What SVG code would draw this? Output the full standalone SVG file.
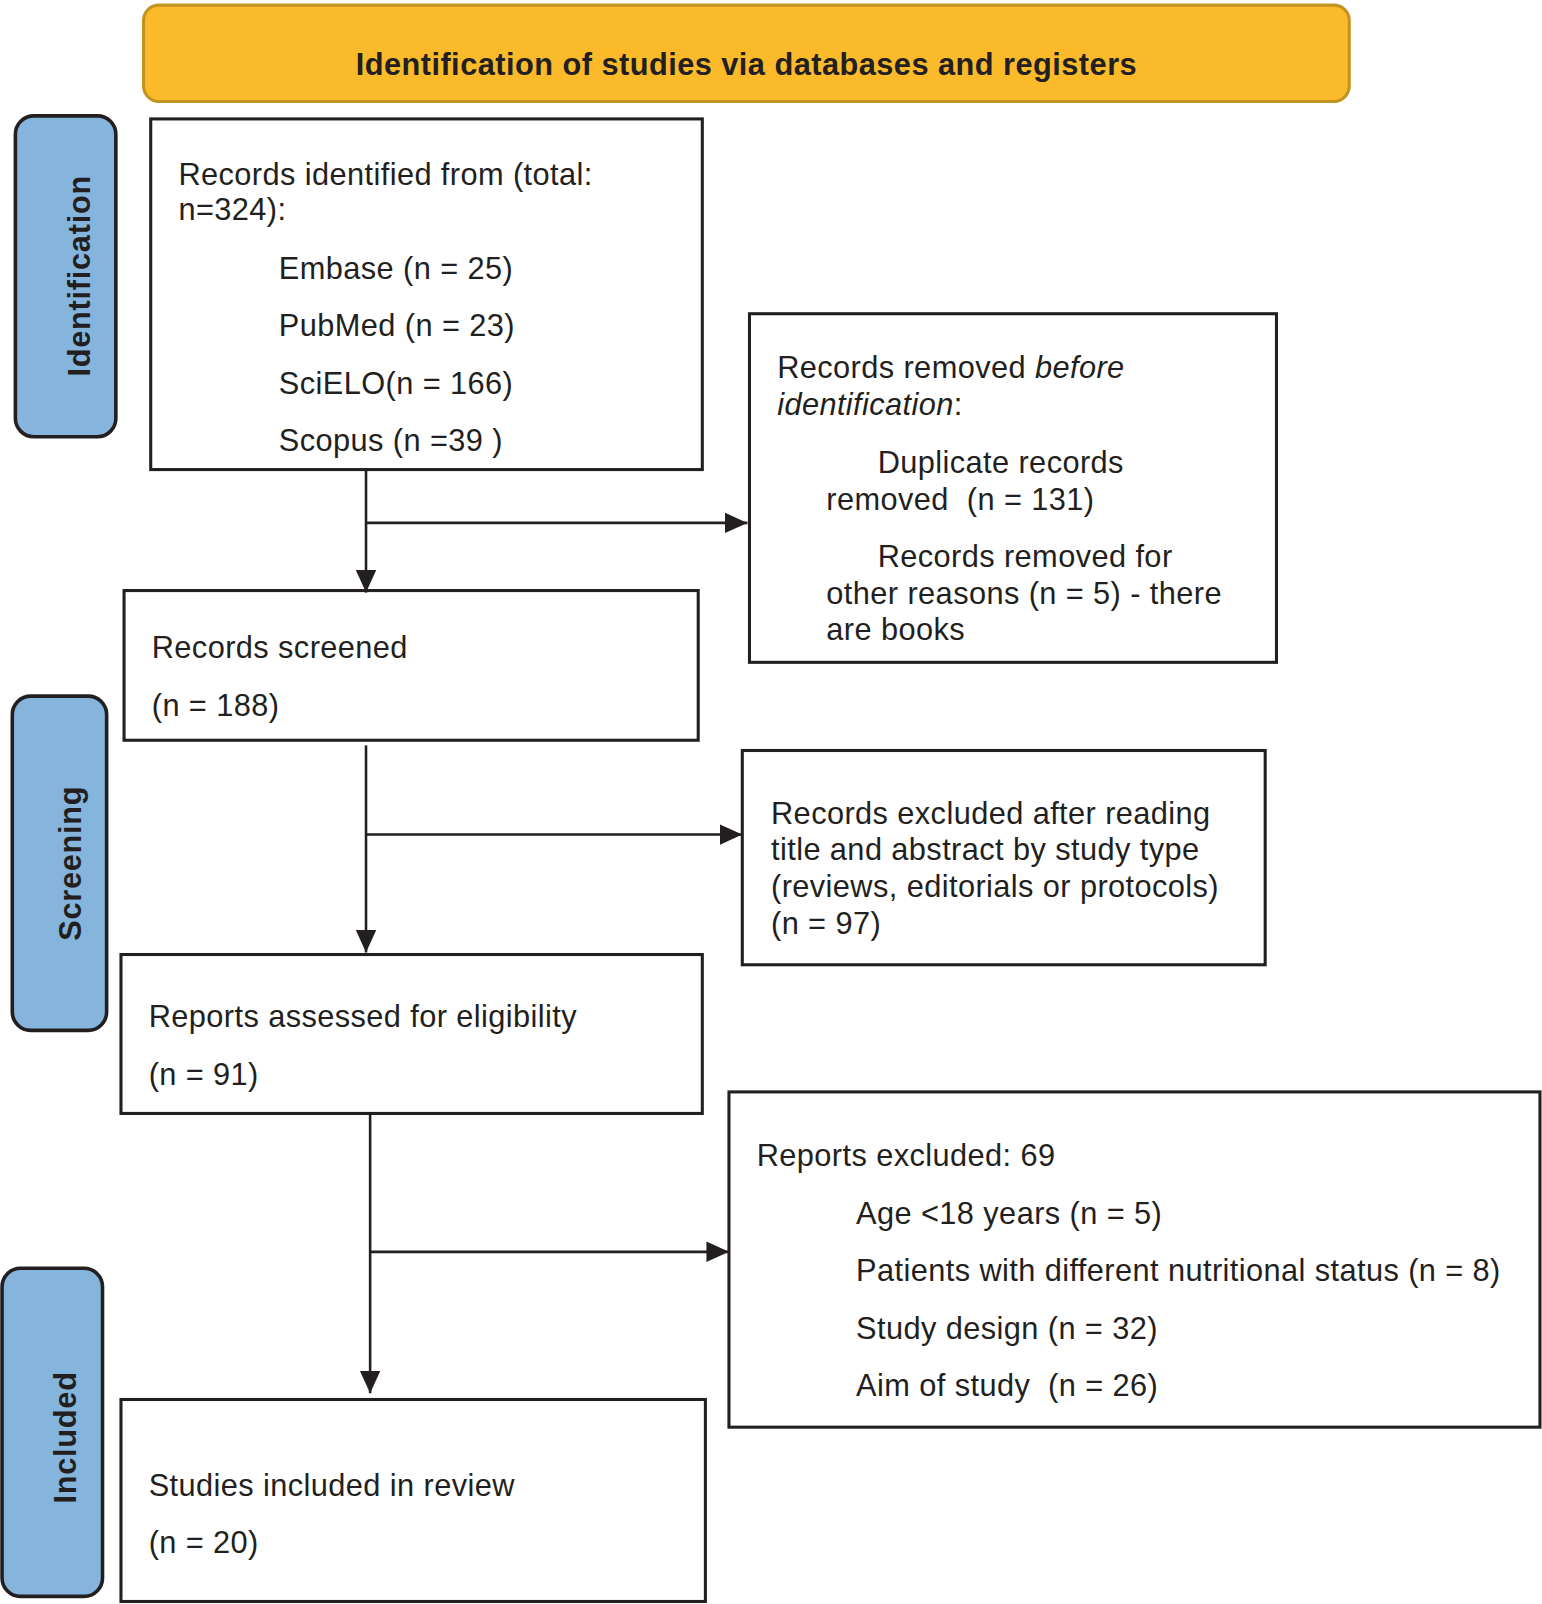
<svg xmlns="http://www.w3.org/2000/svg" width="1542" height="1604" viewBox="0 0 1542 1604">
<defs>
<style>
.box{fill:#fff;stroke:#231f20;stroke-width:3}
.side{fill:#85b5dd;stroke:#231f20;stroke-width:3.5}
.t{font-family:"Liberation Sans",Arial,sans-serif;font-size:30px;letter-spacing:0.4px;fill:#231f20}
.st{font-family:"Liberation Sans",Arial,sans-serif;font-size:30px;letter-spacing:0.7px;font-weight:bold;fill:#231f20}
.ht{font-family:"Liberation Sans",Arial,sans-serif;font-size:30px;letter-spacing:0.45px;font-weight:bold;fill:#231f20}
.ln{stroke:#231f20;stroke-width:2.5;fill:none}
</style>
<marker id="ah" markerUnits="userSpaceOnUse" markerWidth="24" markerHeight="24" viewBox="0 0 24 24" refX="22" refY="12" orient="auto">
<path d="M0,2 L22,12 L0,22 Z" fill="#231f20"/>
</marker>
</defs>
<rect width="1542" height="1604" fill="#fff"/>
<g transform="scale(1.02527)">
<g id="header">
<rect x="140" y="5" width="1176" height="94" rx="15" fill="#fbba2a" stroke="#c39320" stroke-width="3"/>
<text class="ht" x="728" y="73" text-anchor="middle">Identification of studies via databases and registers</text>
</g>
<g id="side-identification">
<rect class="side" x="15" y="113" width="98" height="313" rx="18"/>
<text class="st" transform="translate(88,269) rotate(-90)" text-anchor="middle">Identification</text>
</g>
<g id="side-screening">
<rect class="side" x="12" y="679" width="92" height="326" rx="18"/>
<text class="st" transform="translate(79,842) rotate(-90)" text-anchor="middle">Screening</text>
</g>
<g id="side-included">
<rect class="side" x="2" y="1237" width="98" height="320" rx="18"/>
<text class="st" transform="translate(74,1402) rotate(-90)" text-anchor="middle">Included</text>
</g>
<g id="records-identified">
<rect class="box" x="147" y="116" width="538" height="342"/>
<text class="t" x="174" y="180">Records identified from (total:</text>
<text class="t" x="174" y="215">n=324):</text>
<text class="t" x="272" y="272">Embase (n = 25)</text>
<text class="t" x="272" y="328">PubMed (n = 23)</text>
<text class="t" x="272" y="384">SciELO(n = 166)</text>
<text class="t" x="272" y="440">Scopus (n =39 )</text>
</g>
<g id="records-removed">
<rect class="box" x="731" y="306" width="514" height="340"/>
<text class="t" x="758" y="369">Records removed <tspan font-style="italic">before</tspan></text>
<text class="t" x="758" y="405"><tspan font-style="italic">identification</tspan>:</text>
<text class="t" x="856" y="461">Duplicate records</text>
<text class="t" x="806" y="497" xml:space="preserve">removed  (n = 131)</text>
<text class="t" x="856" y="553">Records removed for</text>
<text class="t" x="806" y="589">other reasons (n = 5) - there</text>
<text class="t" x="806" y="624">are books</text>
</g>
<g id="records-screened">
<rect class="box" x="121" y="576" width="560" height="146"/>
<text class="t" x="148" y="642">Records screened</text>
<text class="t" x="148" y="698">(n = 188)</text>
</g>
<g id="records-excluded">
<rect class="box" x="724" y="732" width="510" height="209"/>
<text class="t" x="752" y="804">Records excluded after reading</text>
<text class="t" x="752" y="839">title and abstract by study type</text>
<text class="t" x="752" y="875">(reviews, editorials or protocols)</text>
<text class="t" x="752" y="911">(n = 97)</text>
</g>
<g id="reports-assessed">
<rect class="box" x="118" y="931" width="567" height="155"/>
<text class="t" x="145" y="1002">Reports assessed for eligibility</text>
<text class="t" x="145" y="1058">(n = 91)</text>
</g>
<g id="reports-excluded">
<rect class="box" x="711" y="1065" width="791" height="327"/>
<text class="t" x="738" y="1137">Reports excluded: 69</text>
<text class="t" x="835" y="1194">Age &lt;18 years (n = 5)</text>
<text class="t" x="835" y="1249">Patients with different nutritional status (n = 8)</text>
<text class="t" x="835" y="1306">Study design (n = 32)</text>
<text class="t" x="835" y="1362" xml:space="preserve">Aim of study  (n = 26)</text>
</g>
<g id="studies-included">
<rect class="box" x="118" y="1365" width="570" height="197"/>
<text class="t" x="145" y="1459">Studies included in review</text>
<text class="t" x="145" y="1515">(n = 20)</text>
</g>
<g id="connectors">
<line class="ln" x1="357" y1="458" x2="357" y2="578" marker-end="url(#ah)"/>
<line class="ln" x1="357" y1="510" x2="729" y2="510" marker-end="url(#ah)"/>
<line class="ln" x1="357" y1="727" x2="357" y2="929" marker-end="url(#ah)"/>
<line class="ln" x1="357" y1="814" x2="724" y2="814" marker-end="url(#ah)"/>
<line class="ln" x1="361" y1="1086" x2="361" y2="1359" marker-end="url(#ah)"/>
<line class="ln" x1="361" y1="1221" x2="711" y2="1221" marker-end="url(#ah)"/>
</g>
</g>
</svg>
